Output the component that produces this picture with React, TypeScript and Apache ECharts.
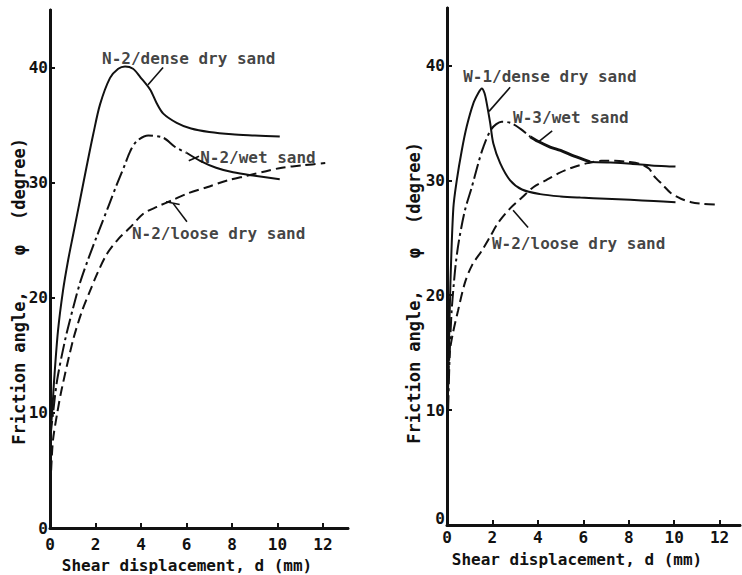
import React, { useEffect, useRef } from "react";
import * as echarts from "echarts";

// ---------- tick values ----------
const xTicks = [0, 2, 4, 6, 8, 10, 12];
const yTicks = [0, 10, 20, 30, 40];

// ---------- left panel (N-2) ----------
const n2DenseX = [0.0, 0.09, 0.18, 0.35, 0.57, 0.8, 1.03, 1.32, 1.61, 1.9, 2.2, 2.64, 3.0, 3.3, 3.65, 3.96, 4.4, 4.69, 4.98, 5.57, 6.2, 7.0, 8.0, 9.0, 10.1];
const n2DenseY = [8, 9.9, 12.8, 17.1, 20.6, 23.3, 25.6, 28.5, 31.4, 34.2, 36.8, 39.1, 39.9, 40.1, 39.9, 39.2, 38.1, 36.9, 36.0, 35.2, 34.7, 34.4, 34.2, 34.1, 34.0];

const n2WetDashX = [0.02, 0.13, 0.31, 0.66, 1.0, 1.32, 1.65, 2.05, 2.56, 2.93, 3.3, 3.52, 3.81, 4.32, 4.98, 5.5, 6.0];
const n2WetDashY = [8, 9.9, 12.8, 16.3, 19.0, 21.3, 23.2, 25.3, 27.9, 29.8, 31.6, 32.7, 33.6, 34.1, 33.9, 33.1, 32.6];
const n2WetSolidX = [6.0, 6.6, 7.3, 8.05, 9.0, 10.1];
const n2WetSolidY = [32.6, 31.9, 31.3, 30.9, 30.6, 30.3];

const n2LooseX = [0.05, 0.13, 0.31, 0.53, 1.01, 1.4, 1.76, 2.1, 2.5, 3.0, 3.52, 4.1, 4.7, 5.4, 6.1, 6.9, 7.8, 8.66, 9.5, 10.2, 11.1, 12.1];
const n2LooseY = [5, 7.6, 9.9, 12.2, 16.3, 18.8, 20.6, 22.2, 23.8, 25.1, 26.1, 27.3, 27.9, 28.5, 29.1, 29.6, 30.2, 30.6, 31.0, 31.3, 31.5, 31.7];

// ---------- right panel (W) ----------
const w1DenseX = [0.03, 0.08, 0.15, 0.28, 0.43, 0.65, 0.87, 1.16, 1.38, 1.53, 1.65, 1.75, 1.9, 2.04, 2.34, 2.78, 3.3, 4.1, 5.0, 5.87, 7.0, 8.07, 9.1, 10.06];
const w1DenseY = [10, 15, 21, 27.6, 30.0, 32.6, 34.7, 36.7, 37.6, 38.0, 37.6, 36.7, 35.0, 33.2, 31.5, 30.0, 29.2, 28.8, 28.6, 28.5, 28.4, 28.3, 28.2, 28.1];

const w3WetDashX = [0.05, 0.12, 0.2, 0.3, 0.4, 0.53, 0.79, 1.09, 1.38, 1.6, 1.97, 2.41, 2.8, 3.22, 3.66];
const w3WetDashY = [10, 15, 18.5, 21, 23, 24.8, 27.4, 29.4, 31.5, 32.9, 34.5, 35.1, 35.0, 34.5, 33.8];
const w3WetBoldX = [3.66, 4.0, 4.54, 5.0, 5.6, 6.3];
const w3WetBoldY = [33.8, 33.4, 32.9, 32.6, 32.1, 31.6];
const w3WetThinX = [6.3, 7.2, 8.1, 9.0, 10.06];
const w3WetThinY = [31.6, 31.55, 31.45, 31.3, 31.2];

const w2LooseX = [0.05, 0.13, 0.26, 0.49, 0.79, 1.1, 1.54, 1.9, 2.25, 2.8, 3.3, 3.8, 4.35, 4.9, 5.5, 6.2, 6.8, 7.4, 8.0, 8.55, 8.9, 9.1, 9.5, 9.85, 10.3, 10.75, 11.3, 11.8];
const w2LooseY = [13, 15.2, 16.7, 18.7, 21.1, 22.6, 23.9, 25.1, 26.3, 27.6, 28.5, 29.4, 30.0, 30.6, 31.1, 31.5, 31.7, 31.7, 31.6, 31.4, 31.0, 30.4, 29.6, 28.9, 28.4, 28.1, 27.95, 27.9];

// ---------- annotation labels (data coords) ----------
const leftLabels = ["N-2/dense dry sand", "N-2/wet sand", "N-2/loose dry sand"];
const leftLabelPos = [[2.29, 40.8], [6.6, 32.2], [3.6, 25.6]];
const leftLeaders = [
  [[4.97, 40.0], [4.31, 38.5]],
  [[6.1, 31.9], [6.55, 32.3]],
  [[6.02, 26.6], [5.41, 28.2]],
  [[5.1, 28.35], [5.7, 28.1]],
];
const rightLabels = ["W-1/dense dry sand", "W-3/wet sand", "W-2/loose dry sand"];
const rightLabelPos = [[0.71, 39.0], [2.91, 35.5], [1.98, 24.5]];
const rightLeaders = [
  [[2.78, 38.1], [1.85, 36.0]],
  [[4.63, 34.3], [4.0, 33.3]],
  [[3.57, 25.9], [2.91, 27.4]],
];

const FONT = "'DejaVu Sans Mono', 'Liberation Mono', monospace";
const INK = "#111";
const DASHED = [10, 5];
const DASHDOT = [15, 4, 3, 4];

const pts = (xs: number[], ys: number[]) => xs.map((x, i) => [x, ys[i]]);

function curve(xs: number[], ys: number[], g: number, type: any, width = 2) {
  return {
    type: "line",
    xAxisIndex: g,
    yAxisIndex: g,
    data: pts(xs, ys),
    showSymbol: false,
    symbol: "none",
    smooth: 0.3,
    lineStyle: { color: INK, width, type },
    silent: true,
    z: 3,
  };
}

function leader(seg: number[][], g: number) {
  return {
    type: "line",
    xAxisIndex: g,
    yAxisIndex: g,
    data: seg,
    symbol: "none",
    lineStyle: { color: INK, width: 1.6 },
    silent: true,
  };
}

function labels(names: string[], pos: number[][], g: number) {
  return {
    type: "scatter",
    xAxisIndex: g,
    yAxisIndex: g,
    symbolSize: 0,
    silent: true,
    data: pos.map((p, i) => ({ value: p, name: names[i] })),
    label: {
      show: true,
      position: "right",
      distance: 0,
      formatter: (p: any) => p.name,
      fontFamily: FONT,
      fontSize: 16,
      fontWeight: "bold",
      color: INK,
    },
    z: 5,
  };
}

function bottomX(g: number, max: number, margin: number) {
  return {
    type: "value",
    gridIndex: g,
    position: "bottom",
    min: 0,
    max,
    splitLine: { show: false },
    axisLine: { show: true, lineStyle: { color: INK, width: 2 } },
    axisTick: { show: true, inside: true, length: 5, customValues: xTicks, lineStyle: { color: INK, width: 2 } },
    axisLabel: { customValues: xTicks, fontFamily: FONT, fontSize: 16, fontWeight: "bold", color: INK, margin },
  };
}
function topFrame(g: number, max: number) {
  return {
    type: "value",
    gridIndex: g,
    position: "top",
    min: 0,
    max,
    splitLine: { show: false },
    axisLine: { show: true, lineStyle: { color: INK, width: 3 } },
    axisTick: { show: false },
    axisLabel: { show: false },
  };
}
function leftY(g: number, liftZero: boolean) {
  return {
    type: "value",
    gridIndex: g,
    position: "left",
    min: 0,
    max: 45,
    splitLine: { show: false },
    axisLine: { show: true, lineStyle: { color: INK, width: 2.5 } },
    axisTick: { show: true, inside: true, length: 5, customValues: yTicks, lineStyle: { color: INK, width: 2 } },
    axisLabel: {
      customValues: yTicks,
      fontFamily: FONT,
      fontSize: 16,
      fontWeight: "bold",
      color: INK,
      margin: 2,
      formatter: (v: number) => (liftZero && v === 0 ? "{z|0}" : String(v)),
      rich: {
        z: { fontFamily: FONT, fontSize: 16, fontWeight: "bold", color: INK, padding: [0, 0, 14, 0] },
      },
    },
  };
}
function rightFrame(g: number) {
  return {
    type: "value",
    gridIndex: g,
    position: "right",
    min: 0,
    max: 45,
    splitLine: { show: false },
    axisLine: { show: true, lineStyle: { color: INK, width: 3 } },
    axisTick: { show: false },
    axisLabel: { show: false },
  };
}

function yTitle(x: number, y1: number, y2: number, y3: number) {
  const base = { fontFamily: FONT, fontSize: 17, fontWeight: "bold", fill: INK, align: "center", verticalAlign: "middle" };
  return [
    { type: "text", x, y: y1, rotation: Math.PI / 2, style: { ...base, text: "Friction angle," } },
    { type: "text", x, y: y2, rotation: Math.PI / 2, style: { ...base, text: "φ" } },
    { type: "text", x, y: y3, rotation: Math.PI / 2, style: { ...base, text: "(degree)" } },
  ];
}

export default function App() {
  const ref = useRef<HTMLDivElement>(null);
  useEffect(() => {
    if (!ref.current) return;
    const chart = echarts.init(ref.current, null, { renderer: "svg" });
    const xTitleStyle = {
      fontFamily: FONT,
      fontSize: 16,
      fontWeight: "bold",
      fill: INK,
      align: "center",
      verticalAlign: "middle",
      text: "Shear displacement, d (mm)",
    };
    chart.setOption({
      animation: false,
      backgroundColor: "#fff",
      grid: [
        { left: 50, top: 10, width: 298, height: 518 },
        { left: 447, top: 8, width: 293, height: 517 },
      ],
      xAxis: [bottomX(0, 13.1, 8), bottomX(1, 12.9, 4), topFrame(0, 13.1), topFrame(1, 12.9)],
      yAxis: [leftY(0, false), leftY(1, true), rightFrame(0), rightFrame(1)],
      graphic: [
        ...yTitle(19, 368, 250, 179),
        ...yTitle(414, 367, 253, 183),
        { type: "text", x: 187, y: 565, style: xTitleStyle },
        { type: "text", x: 577, y: 559, style: xTitleStyle },
      ],
      series: [
        curve(n2DenseX, n2DenseY, 0, "solid"),
        curve(n2WetDashX, n2WetDashY, 0, DASHDOT),
        curve(n2WetSolidX, n2WetSolidY, 0, "solid"),
        curve(n2LooseX, n2LooseY, 0, DASHED),
        curve(w1DenseX, w1DenseY, 1, "solid"),
        curve(w3WetDashX, w3WetDashY, 1, DASHDOT),
        curve(w3WetBoldX, w3WetBoldY, 1, "solid", 3),
        curve(w3WetThinX, w3WetThinY, 1, "solid"),
        curve(w2LooseX, w2LooseY, 1, DASHED),
        ...leftLeaders.map((s) => leader(s, 0)),
        ...rightLeaders.map((s) => leader(s, 1)),
        labels(leftLabels, leftLabelPos, 0),
        labels(rightLabels, rightLabelPos, 1),
      ],
    });
    return () => chart.dispose();
  }, []);
  return (
    <div
      ref={ref}
      style={{ position: "absolute", left: 0, top: 0, width: 742, height: 575, background: "#fff" }}
    />
  );
}
